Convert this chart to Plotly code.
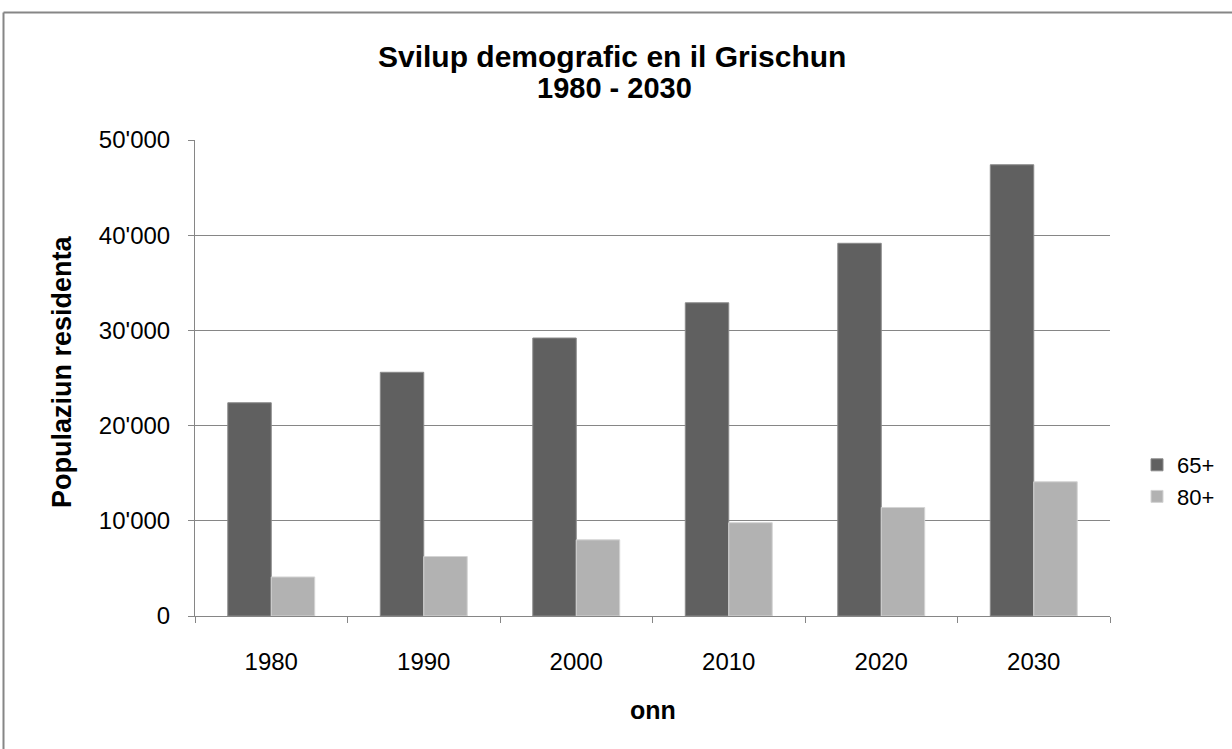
import plotly.graph_objects as go

years = ["1980", "1990", "2000", "2010", "2020", "2030"]
pop_65 = [22400, 25600, 29200, 32900, 39150, 47400]
pop_80 = [4100, 6250, 8000, 9800, 11400, 14100]
y_ticks = [0, 10000, 20000, 30000, 40000, 50000]

FONT = "Liberation Sans, Arial, sans-serif"
GRID = "#868686"

fig = go.Figure()
fig.add_trace(go.Bar(x=years, y=pop_65, name="65+",
                     marker=dict(color="#606060", line=dict(color="#8a8a8a", width=1))))
fig.add_trace(go.Bar(x=years, y=pop_80, name="80+",
                     marker=dict(color="#b2b2b2", line=dict(color="#d4d4d4", width=1))))

L, R, T, B = 195, 122, 140, 133
W, H = 1232, 749
pw, ph = W - L - R, H - T - B

def px(x):
    return (x - L) / pw

def py(y):
    return (H - B - y) / ph

fig.update_layout(
    width=W, height=H,
    margin=dict(l=L, r=R, t=T, b=B, autoexpand=False),
    paper_bgcolor="white", plot_bgcolor="white",
    font=dict(family=FONT, size=24, color="#000000"),
    separators=".'",
    barmode="group", bargap=0.43, bargroupgap=0,
    legend=dict(x=px(1137), xanchor="left", y=py(481), yanchor="middle",
                font=dict(size=22), bgcolor="rgba(0,0,0,0)", tracegroupgap=0),
    showlegend=True,
)
fig.update_yaxes(range=[0, 50000], tickvals=y_ticks, tickformat=",",
                 showgrid=True, gridcolor=GRID, gridwidth=1,
                 showline=True, linecolor=GRID, linewidth=1,
                 ticks="outside", ticklen=6, tickcolor=GRID,
                 ticklabelstandoff=13, zeroline=False)
fig.update_xaxes(showline=True, linecolor=GRID, linewidth=1,
                 ticks="outside", ticklen=6, tickcolor=GRID,
                 tickson="boundaries", ticklabelstandoff=24)

# chart title (two lines, tight spacing)
fig.add_annotation(text="<b>Svilup demografic en il Grischun</b>",
                   xref="paper", yref="paper", x=px(612), y=py(57),
                   xanchor="center", yanchor="middle", showarrow=False,
                   font=dict(family=FONT, size=30))
fig.add_annotation(text="<b>1980 - 2030</b>",
                   xref="paper", yref="paper", x=px(614), y=py(88),
                   xanchor="center", yanchor="middle", showarrow=False,
                   font=dict(family=FONT, size=29))

fig.add_annotation(text="<b>Populaziun residenta</b>", textangle=-90,
                   xref="paper", yref="paper", x=px(62), y=py(372),
                   xanchor="center", yanchor="middle", showarrow=False,
                   font=dict(family=FONT, size=27))
fig.add_annotation(text="<b>onn</b>", xref="paper", yref="paper",
                   x=0.5, y=py(710), xanchor="center", yanchor="middle",
                   showarrow=False, font=dict(family=FONT, size=25))

# outer chart frame (top and left edges visible)
fig.add_shape(type="line", xref="paper", yref="paper",
              x0=px(3.5), x1=px(1240), y0=py(12.5), y1=py(12.5),
              line=dict(color="#868686", width=2))
fig.add_shape(type="line", xref="paper", yref="paper",
              x0=px(3.5), x1=px(3.5), y0=py(12.5), y1=py(760),
              line=dict(color="#868686", width=2))

fig.write_html("out.html", config={"displayModeBar": False},
               post_script="document.body.style.margin='0';")
